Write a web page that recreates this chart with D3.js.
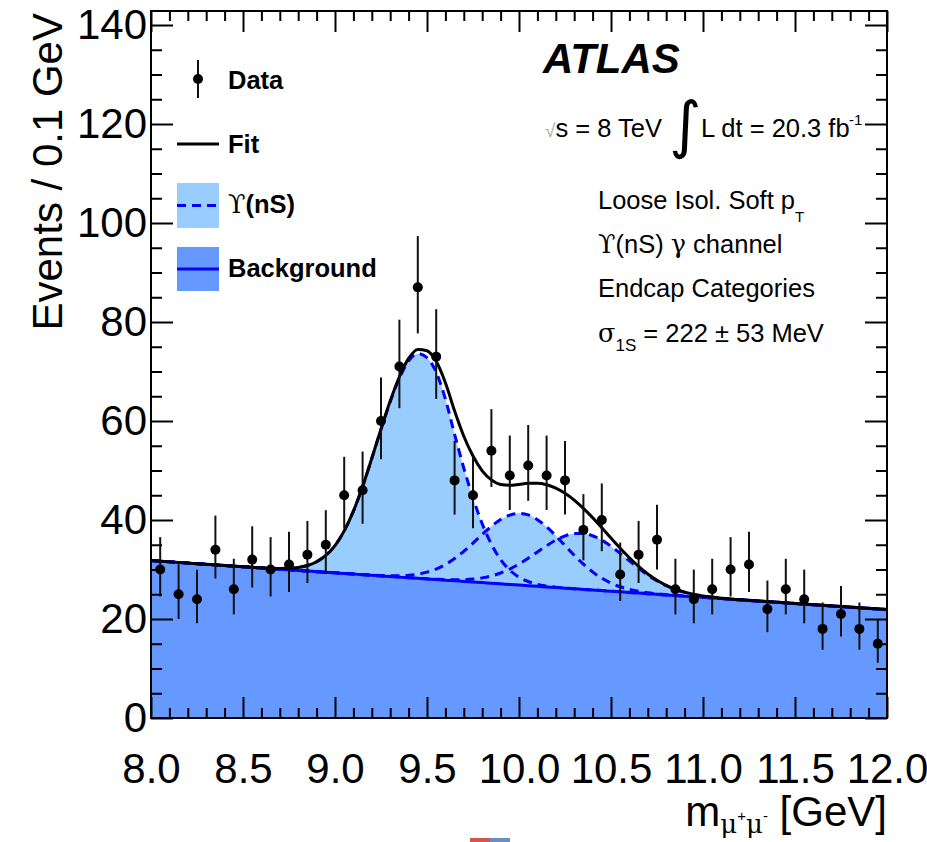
<!DOCTYPE html>
<html>
<head>
<meta charset="utf-8">
<script src="https://cdn.jsdelivr.net/npm/d3@7"></script>
<style>
  body { margin: 0; background: #fff; }
  svg { display: block; font-family: "Liberation Sans", Arial, Helvetica, sans-serif; }
</style>
</head>
<body>
<svg id="chart" width="927" height="842"></svg>
<script>
// Bin centres of the dimuon mass histogram [GeV], 0.1 GeV wide bins.
const massBins = [
    8.05, 8.15, 8.25, 8.35, 8.45, 8.55, 8.65, 8.75, 8.85, 8.95,
    9.05, 9.15, 9.25, 9.35, 9.45, 9.55, 9.65, 9.75, 9.85, 9.95,
    10.05, 10.15, 10.25, 10.35, 10.45, 10.55, 10.65, 10.75, 10.85, 10.95,
    11.05, 11.15, 11.25, 11.35, 11.45, 11.55, 11.65, 11.75, 11.85, 11.95
];

// Events per bin (data points).
const events = [
    30, 25, 24, 34, 26, 32, 30, 31, 33, 35,
    45, 46, 60, 71, 87, 73, 48, 45, 54, 49,
    51, 49, 48, 38, 40, 29, 33, 36, 26, 24,
    26, 30, 31, 22, 26, 24, 18, 21, 18, 15
];

// Fit curves, on one common mass grid.
const fitMass = [
    8.00, 8.25, 8.50, 8.60, 8.70, 8.75,
    8.80, 8.85, 8.90, 8.95, 9.00, 9.05, 9.10, 9.15, 9.20, 9.25,
    9.30, 9.35, 9.40, 9.45, 9.50, 9.55, 9.60, 9.65, 9.70, 9.75,
    9.80, 9.85, 9.90, 9.95, 10.00, 10.05, 10.10, 10.15, 10.20, 10.25,
    10.30, 10.35, 10.40, 10.45, 10.50, 10.55, 10.60, 10.65, 10.70, 10.75,
    10.80, 10.85, 10.90, 10.95, 11.00, 11.10, 11.25, 11.50, 11.75, 12.00
];

// Background (linear) fit.
const bkgFit = [
    31.80, 31.18, 30.56, 30.32, 30.07, 29.94,
    29.82, 29.70, 29.57, 29.45, 29.33, 29.20, 29.08, 28.95, 28.83, 28.71,
    28.58, 28.46, 28.34, 28.21, 28.09, 27.96, 27.84, 27.72, 27.59, 27.47,
    27.35, 27.22, 27.10, 26.97, 26.85, 26.73, 26.60, 26.48, 26.36, 26.23,
    26.11, 25.98, 25.86, 25.74, 25.61, 25.49, 25.37, 25.24, 25.12, 24.99,
    24.87, 24.75, 24.62, 24.50, 24.38, 24.13, 23.76, 23.14, 22.52, 21.90
];

// Upsilon(1S), (2S), (3S) signal components above the background.
const sig1S = [
    0, 0, 0, 0.03, 0.15, 0.3,
    0.6, 1.1, 2.0, 3.4, 5.5, 8.6, 12.7, 17.8, 23.6, 29.6,
    35.3, 40.2, 43.8, 45.4, 44.7, 41.9, 36.6, 29.6, 22.9, 17.0,
    11.9, 7.9, 4.9, 2.9, 1.6, 0.85, 0.4, 0.18, 0.07, 0.02,
    0, 0, 0, 0, 0, 0, 0, 0, 0, 0,
    0, 0, 0, 0, 0, 0, 0, 0, 0, 0
];

const sig2S = [
    0, 0, 0, 0, 0, 0,
    0, 0, 0, 0, 0, 0, 0.01, 0.02, 0.04, 0.08,
    0.15, 0.28, 0.50, 0.85, 1.38, 2.13, 3.17, 4.49, 6.08, 7.86,
    9.73, 11.50, 12.99, 14.03, 14.49, 14.29, 13.47, 12.14, 10.46, 8.61,
    6.77, 5.09, 3.66, 2.51, 1.65, 1.03, 0.62, 0.36, 0.19, 0.10,
    0.05, 0.02, 0.01, 0, 0, 0, 0, 0, 0, 0
];

const sig3S = [
    0, 0, 0, 0, 0, 0,
    0, 0, 0, 0, 0, 0, 0, 0, 0, 0,
    0, 0, 0, 0.01, 0.03, 0.06, 0.11, 0.20, 0.35, 0.59,
    0.96, 1.48, 2.19, 3.12, 4.25, 5.54, 6.94, 8.32, 9.57, 10.55,
    11.15, 11.29, 10.96, 10.20, 9.10, 7.78, 6.38, 5.01, 3.77, 2.72,
    1.88, 1.25, 0.79, 0.48, 0.28, 0.08, 0.01, 0, 0, 0
];

// Axis ticks.
const xTicks = [8.0, 8.5, 9.0, 9.5, 10.0, 10.5, 11.0, 11.5, 12.0];
const yTicks = [0, 20, 40, 60, 80, 100, 120, 140];

const colSignal = "#99ccff";
const colBkg = "#6699ff";
const colLine = "#0000ff";

let svg = d3.select("#chart");

// Plot frame in pixels.
let frameLeft = 151, frameRight = 887, frameTop = 11, frameBottom = 718;

let x = d3.scaleLinear().domain([8, 12]).range([frameLeft, frameRight]);
let y = d3.scaleLinear().domain([0, 142.83]).range([frameBottom, frameTop]);

svg.append("defs").append("clipPath")
    .attr("id", "plot-clip")
    .append("rect")
    .attr("x", frameLeft).attr("y", frameTop)
    .attr("width", frameRight - frameLeft).attr("height", frameBottom - frameTop);

let plot = svg.append("g").attr("clip-path", "url(#plot-clip)");

// Join the fit curves into rows.
let fitRows = fitMass.map(function(m, i) {
    return {m: m, bkg: bkgFit[i], s: [sig1S[i], sig2S[i], sig3S[i]]};
});

// Background fill.
plot.append("path")
    .datum(fitRows)
    .attr("fill", colBkg)
    .attr("d", d3.area()
        .x(d => x(d.m))
        .y0(y(0))
        .y1(d => y(d.bkg))
        .curve(d3.curveMonotoneX));

// Each Upsilon state is filled between the background and background + state.
[0, 1, 2].forEach(function(k) {
    plot.append("path")
        .datum(fitRows)
        .attr("fill", colSignal)
        .attr("d", d3.area()
            .x(d => x(d.m))
            .y0(d => y(d.bkg))
            .y1(d => y(d.bkg + d.s[k]))
            .curve(d3.curveMonotoneX));
});

[0, 1, 2].forEach(function(k) {
    plot.append("path")
        .datum(fitRows)
        .attr("fill", "none")
        .attr("stroke", colLine)
        .attr("stroke-width", 3)
        .attr("stroke-dasharray", "9,6")
        .attr("d", d3.line()
            .x(d => x(d.m))
            .y(d => y(d.bkg + d.s[k]))
            .curve(d3.curveMonotoneX));
});

// Background line.
plot.append("path")
    .datum(fitRows)
    .attr("fill", "none")
    .attr("stroke", colLine)
    .attr("stroke-width", 3)
    .attr("d", d3.line()
        .x(d => x(d.m))
        .y(d => y(d.bkg))
        .curve(d3.curveMonotoneX));

// Total fit.
plot.append("path")
    .datum(fitRows)
    .attr("fill", "none")
    .attr("stroke", "#000")
    .attr("stroke-width", 3)
    .attr("d", d3.line()
        .x(d => x(d.m))
        .y(d => y(d.bkg + d.s[0] + d.s[1] + d.s[2]))
        .curve(d3.curveMonotoneX));

function poissonErrors(n) {
    /*
    Approximate asymmetric Poisson interval for n counts.
    */
    return {up: Math.sqrt(n + 0.75) + 1, down: Math.sqrt(Math.max(n - 0.25, 0))};
}

let dataRows = massBins.map(function(m, i) {
    let err = poissonErrors(events[i]);
    return {m: m, n: events[i], up: err.up, down: err.down};
});

let points = plot.append("g").attr("class", "data");

points.selectAll("line")
    .data(dataRows)
    .join("line")
    .attr("x1", d => x(d.m)).attr("x2", d => x(d.m))
    .attr("y1", d => y(d.n + d.up)).attr("y2", d => y(d.n - d.down))
    .attr("stroke", "#111")
    .attr("stroke-width", 2);

points.selectAll("circle")
    .data(dataRows)
    .join("circle")
    .attr("cx", d => x(d.m)).attr("cy", d => y(d.n))
    .attr("r", 5)
    .attr("fill", "#000");

// Axes: ticks on all four sides, pointing into the frame.
let xMinor = d3.range(8.1, 12, 0.1).filter(v => Math.abs(v * 2 - Math.round(v * 2)) > 0.01);
let yMinor = d3.range(5, 142, 5).filter(v => v % 20 !== 0);

function styleAxis(g) {
    g.select(".domain").remove();
    g.selectAll("line").attr("stroke", "#000").attr("stroke-width", 2);
    g.attr("font-family", null).attr("font-size", 42).attr("fill", "#000");
}

svg.append("g")
    .attr("transform", "translate(0," + frameBottom + ")")
    .call(d3.axisBottom(x).tickValues(xTicks).tickSize(-21).tickFormat(d3.format(".1f")))
    .call(styleAxis)
    .call(g => g.selectAll("text").attr("y", 65).attr("dy", 0));

svg.append("g")
    .attr("transform", "translate(0," + frameBottom + ")")
    .call(d3.axisBottom(x).tickValues(xMinor).tickSize(-10).tickFormat(""))
    .call(styleAxis);

svg.append("g")
    .attr("transform", "translate(0," + frameTop + ")")
    .call(d3.axisTop(x).tickValues(xTicks).tickSize(-21).tickFormat(""))
    .call(styleAxis);

svg.append("g")
    .attr("transform", "translate(0," + frameTop + ")")
    .call(d3.axisTop(x).tickValues(xMinor).tickSize(-10).tickFormat(""))
    .call(styleAxis);

svg.append("g")
    .attr("transform", "translate(" + frameLeft + ",0)")
    .call(d3.axisLeft(y).tickValues(yTicks).tickSize(-22).tickPadding(4))
    .call(styleAxis);

svg.append("g")
    .attr("transform", "translate(" + frameLeft + ",0)")
    .call(d3.axisLeft(y).tickValues(yMinor).tickSize(-11).tickFormat(""))
    .call(styleAxis);

svg.append("g")
    .attr("transform", "translate(" + frameRight + ",0)")
    .call(d3.axisRight(y).tickValues(yTicks).tickSize(-22).tickFormat(""))
    .call(styleAxis);

svg.append("g")
    .attr("transform", "translate(" + frameRight + ",0)")
    .call(d3.axisRight(y).tickValues(yMinor).tickSize(-11).tickFormat(""))
    .call(styleAxis);

// Frame.
svg.append("rect")
    .attr("x", frameLeft).attr("y", frameTop)
    .attr("width", frameRight - frameLeft).attr("height", frameBottom - frameTop)
    .attr("fill", "none")
    .attr("stroke", "#000")
    .attr("stroke-width", 2);

// Axis titles.
svg.append("text")
    .attr("transform", "translate(62,13) rotate(-90)")
    .attr("text-anchor", "end")
    .attr("font-size", 42)
    .text("Events / 0.1 GeV");

let xTitle = svg.append("text")
    .attr("x", frameRight).attr("y", 826)
    .attr("text-anchor", "end")
    .attr("font-size", 42);
xTitle.append("tspan").text("m");
xTitle.append("tspan").attr("font-size", 26).attr("font-family", "DejaVu Serif").attr("dy", 7).text("μ");
xTitle.append("tspan").attr("font-size", 15).attr("dy", -12).text("+");
xTitle.append("tspan").attr("font-size", 26).attr("font-family", "DejaVu Serif").attr("dy", 12).text("μ");
xTitle.append("tspan").attr("font-size", 15).attr("dy", -12).text("-");
xTitle.append("tspan").attr("dy", 5).text(" [GeV]");

// Legend.
let legend = svg.append("g").attr("font-size", 25.5).attr("font-weight", "bold");

legend.append("line")
    .attr("x1", 198).attr("x2", 198).attr("y1", 60).attr("y2", 98)
    .attr("stroke", "#111").attr("stroke-width", 2);
legend.append("circle").attr("cx", 198).attr("cy", 79).attr("r", 5);
legend.append("text").attr("x", 228).attr("y", 89).text("Data");

legend.append("line")
    .attr("x1", 177).attr("x2", 219).attr("y1", 144).attr("y2", 144)
    .attr("stroke", "#000").attr("stroke-width", 3);
legend.append("text").attr("x", 228).attr("y", 153).text("Fit");

legend.append("rect")
    .attr("x", 177).attr("y", 183).attr("width", 42).attr("height", 45)
    .attr("fill", colSignal);
legend.append("line")
    .attr("x1", 177).attr("x2", 219).attr("y1", 205.5).attr("y2", 205.5)
    .attr("stroke", colLine).attr("stroke-width", 3).attr("stroke-dasharray", "9,6");
let upsLabel = legend.append("text").attr("x", 228).attr("y", 213);
upsLabel.append("tspan").attr("font-family", "DejaVu Serif").attr("font-weight", "normal").text("ϒ");
upsLabel.append("tspan").text("(nS)");

legend.append("rect")
    .attr("x", 177).attr("y", 247).attr("width", 42).attr("height", 44)
    .attr("fill", colBkg);
legend.append("line")
    .attr("x1", 177).attr("x2", 219).attr("y1", 269).attr("y2", 269)
    .attr("stroke", colLine).attr("stroke-width", 3);
legend.append("text").attr("x", 228).attr("y", 277).text("Background");

// ATLAS label and run conditions.
svg.append("text")
    .attr("x", 543).attr("y", 73)
    .attr("font-size", 42)
    .attr("font-weight", "bold")
    .attr("font-style", "italic")
    .text("ATLAS");

let info = svg.append("g").attr("font-size", 25.5);

let energy = info.append("text").attr("x", 545).attr("y", 137);
energy.append("tspan").attr("font-size", 19).attr("fill", "#aaa").text("√");
energy.append("tspan").text("s = 8 TeV");
info.append("text").attr("x", 669).attr("y", 146).attr("font-size", 62)
    .attr("font-family", "DejaVu Sans").text("∫");
info.append("text").attr("x", 701).attr("y", 137).text("L dt = 20.3 fb");
info.append("text").attr("x", 849).attr("y", 125).attr("font-size", 15).text("-1");

let line1 = info.append("text").attr("x", 598).attr("y", 209);
line1.append("tspan").text("Loose Isol. Soft p");
line1.append("tspan").attr("font-size", 15).attr("dy", 13).text("T");

let line2 = info.append("text").attr("x", 598).attr("y", 253);
line2.append("tspan").attr("font-family", "DejaVu Serif").text("ϒ");
line2.append("tspan").text("(nS) ");
line2.append("tspan").attr("font-family", "DejaVu Serif").text("γ");
line2.append("tspan").text(" channel");

info.append("text").attr("x", 598).attr("y", 297).text("Endcap Categories");

let line4 = info.append("text").attr("x", 598).attr("y", 342);
line4.append("tspan").attr("font-family", "DejaVu Serif").text("σ");
line4.append("tspan").attr("font-size", 17).attr("dy", 9).text("1S");
line4.append("tspan").attr("dy", -9).text(" = 222 ± 53 MeV");

// Edge remnants visible in the original screenshot.
svg.append("rect").attr("x", 470).attr("y", 838).attr("width", 20).attr("height", 4).attr("fill", "#d9534f");
svg.append("rect").attr("x", 490).attr("y", 838).attr("width", 20).attr("height", 4).attr("fill", "#6a8fbf");
</script>
</body>
</html>
